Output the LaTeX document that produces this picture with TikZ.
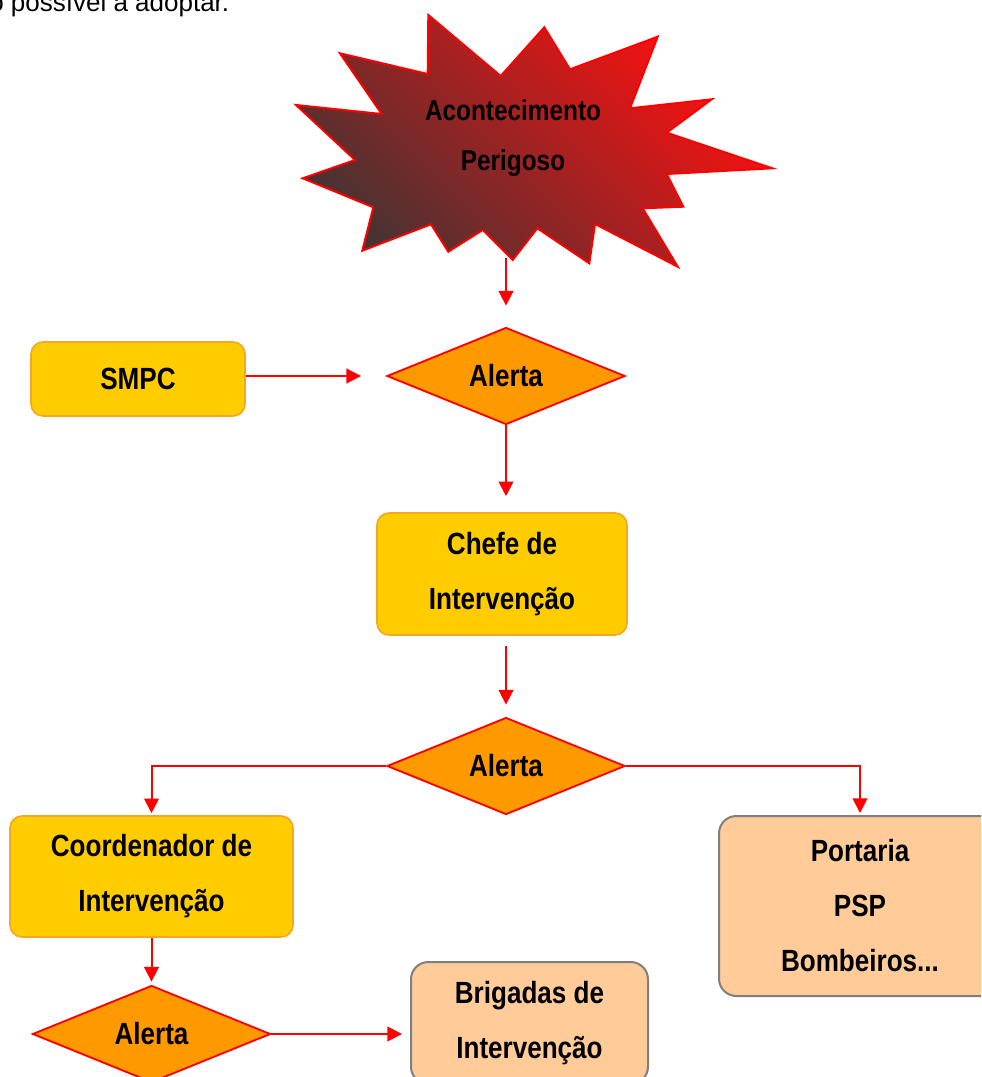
\documentclass[tikz,border=0pt]{standalone}
\usepackage{fontspec}
\setmainfont{Liberation Sans}
\newfontfamily\narrowbf[FakeStretch=0.85]{Liberation Sans Bold}
\usetikzlibrary{shapes.geometric,arrows.meta}
\definecolor{gold}{HTML}{FFCC00}
\definecolor{goldline}{HTML}{F5A623}
\definecolor{orangefill}{HTML}{FF9900}
\definecolor{peach}{HTML}{FFCC99}
\definecolor{grayline}{HTML}{7F7F7F}
\definecolor{burstdark}{HTML}{4A3232}
\definecolor{burstred}{HTML}{FF1010}
\begin{document}
\begin{tikzpicture}[x=0.75pt,y=-0.75pt,
  lbl/.style={font=\narrowbf\fontsize{23}{41.25}\selectfont, align=center, text=black},
  goldbox/.style={lbl, draw=goldline, fill=gold, line width=1.2pt, rounded corners=9pt, inner sep=0pt},
  peachbox/.style={lbl, draw=grayline, fill=peach, line width=1.5pt, rounded corners=13pt, inner sep=0pt},
  decision/.style={lbl, diamond, draw=red, fill=orangefill, line width=1.4pt, inner sep=0pt, minimum width=178.5pt, minimum height=72.75pt},
  flow/.style={draw=red, line width=1.5pt, -{Triangle[length=11pt,width=11pt]}}
]
\useasboundingbox (0,0) rectangle (981,1077);
\clip (0,0) rectangle (981,1077);

\node[anchor=base west, font=\fontsize{19.5}{22}\selectfont, inner sep=0pt] (topline) at (-11,12) {o possível a adoptar.};

\draw[draw=red, line width=1.5pt, top color=burstred, bottom color=burstdark, shading angle=-45]
 (428.3,15) -- (500.7,76) -- (544.3,27.3) -- (570,69.3) -- (657.7,36.7) -- (630,108.3)
 -- (711.7,99.3) -- (666.7,132.7) -- (772.3,168.3) -- (666.7,174) -- (683.3,206.7)
 -- (642.7,208.3) -- (677.7,266.7) -- (595,224) -- (589.3,263.3) -- (537.3,228.3)
 -- (512.7,260) -- (482.7,230) -- (448.3,251.7) -- (431,224.3) -- (362.3,250.7)
 -- (373.3,207.3) -- (302.7,178.3) -- (355,160) -- (296,105) -- (381.7,114)
 -- (340,53.3) -- (427.7,74) -- cycle;
\node[lbl, font=\narrowbf\fontsize{21.5}{37.5}\selectfont] (burst) at (513,138) {Acontecimento\\Perigoso};
\coordinate (burstbottom) at (506,258);

\node[goldbox, minimum width=214*0.75pt, minimum height=74*0.75pt] (smpc) at (138,379) {SMPC};
\node[decision] (a1) at (506,376) {Alerta};
\node[goldbox, minimum width=250*0.75pt, minimum height=122*0.75pt] (chefe) at (502,574) {Chefe de\\Intervenção};
\node[decision] (a2) at (506,766) {Alerta};
\node[goldbox, minimum width=283*0.75pt, minimum height=121*0.75pt] (coord) at (151.5,876.5) {Coordenador de\\Intervenção};
\node[peachbox, minimum width=282*0.75pt, minimum height=180*0.75pt] (port) at (860,906) {Portaria\\PSP\\Bombeiros...};
\node[decision] (a3) at (151.5,1034) {Alerta};
\node[peachbox, minimum width=237*0.75pt, minimum height=122*0.75pt] (brig) at (529.5,1023) {Brigadas de\\Intervenção};

\draw[flow, shorten >=21*0.75pt] (burstbottom) -- (a1.north);
\draw[flow, shorten >=25*0.75pt] (smpc.east |- a1.west) -- (a1.west);
\draw[flow, shorten >=16*0.75pt] (a1.south) -- (chefe.north -| a1.south);
\draw[flow, shorten <=10*0.75pt, shorten >=12*0.75pt] (chefe.south -| a2.north) -- (a2.north);
\draw[flow, shorten >=2*0.75pt] (a2.west) -| (coord.north);
\draw[flow, shorten >=2*0.75pt] (a2.east) -| (port.north);
\draw[flow, shorten >=3*0.75pt] (coord.south) -- (a3.north);
\draw[flow, shorten >=8*0.75pt] (a3.east) -- (a3.east -| brig.west);
\end{tikzpicture}
\end{document}
